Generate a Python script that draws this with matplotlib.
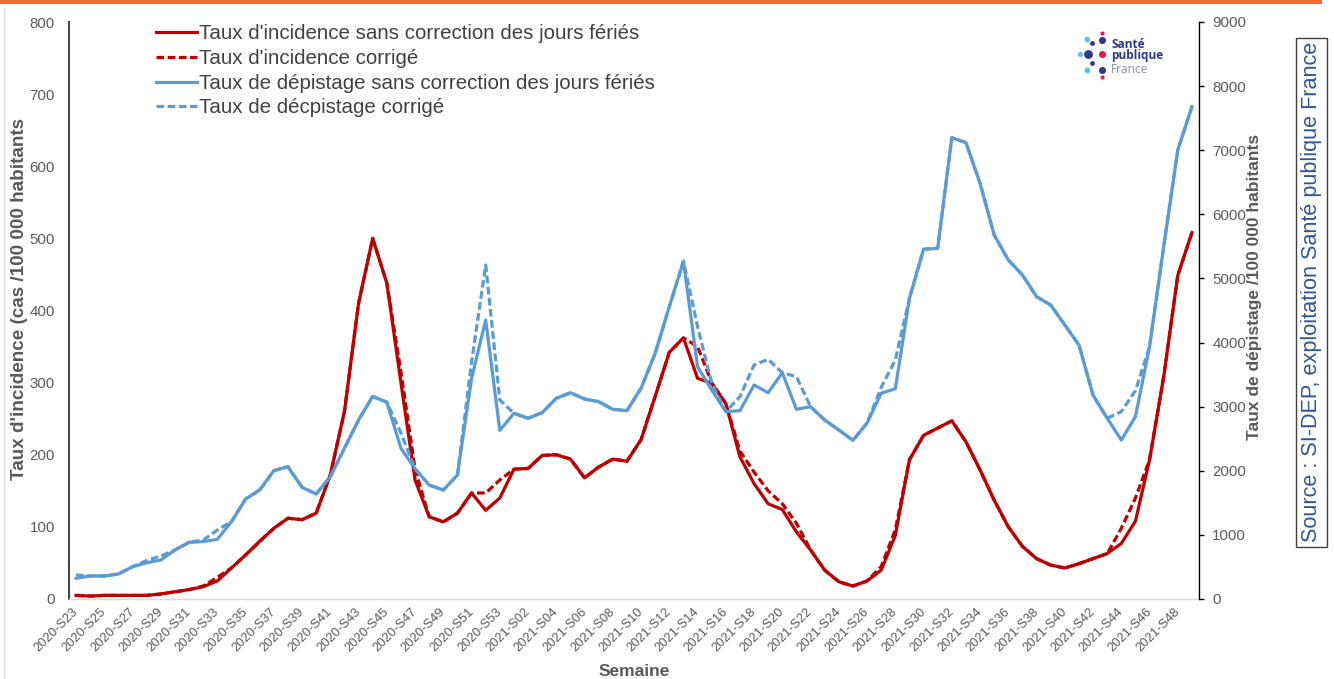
import numpy as np
import matplotlib
matplotlib.use("Agg")
import matplotlib.pyplot as plt
from matplotlib.patches import Rectangle

plt.rcParams['font.family'] = ['Liberation Sans', 'DejaVu Sans']

# semaines 2020-S23 -> 2021-S49
semaines = [f"2020-S{w}" for w in range(23, 54)] + [f"2021-S{w:02d}" for w in range(1, 50)]

# taux d'incidence (cas / 100 000 hab.)
incid_brut = [5, 4, 5, 5, 5, 5, 7, 10, 13, 17,
              25, 43, 61, 80, 98, 112, 110, 119, 172, 260,
              410, 500, 438, 300, 165, 114, 107, 119, 147, 123,
              140, 180, 181, 199, 200, 194, 168, 183, 194, 191,
              221, 281, 342, 362, 306, 299, 271, 197, 160, 132,
              124, 93, 68, 40, 24, 18, 25, 40, 88, 193,
              227, 237, 247, 218, 179, 137, 100, 73, 56, 47,
              43, 49, 56, 63, 77, 108, 193, 308, 449, 508]
incid_corr = [5, 4, 5, 5, 5, 5, 7, 10, 13, 18,
              30, 43, 61, 80, 98, 112, 110, 119, 172, 260,
              410, 500, 438, 315, 180, 114, 107, 119, 147, 147,
              165, 180, 181, 199, 200, 194, 168, 183, 194, 191,
              221, 281, 342, 362, 350, 300, 271, 205, 176, 150,
              132, 105, 68, 40, 24, 18, 25, 45, 96, 193,
              227, 237, 247, 218, 179, 137, 100, 73, 56, 47,
              43, 49, 56, 63, 98, 140, 193, 308, 449, 508]

# taux de dépistage (/ 100 000 hab.)
depist_brut = [323, 359, 359, 390, 504, 566, 608, 764, 884, 895,
               931, 1206, 1560, 1700, 2002, 2064, 1742, 1638, 1908, 2351,
               2792, 3160, 3070, 2351, 2030, 1778, 1700, 1934, 3440, 4352,
               2630, 2897, 2819, 2907, 3131, 3218, 3120, 3078, 2959, 2938,
               3287, 3833, 4560, 5268, 3624, 3260, 2922, 2938, 3338, 3218,
               3530, 2959, 3000, 2792, 2636, 2475, 2745, 3209, 3280, 4690,
               5455, 5471, 7196, 7118, 6485, 5678, 5288, 5054, 4716, 4586,
               4274, 3962, 3180, 2819, 2480, 2844, 3936, 5496, 7004, 7680]
depist_corr = [374, 359, 359, 390, 504, 600, 670, 764, 884, 920,
               1076, 1206, 1560, 1700, 2002, 2064, 1742, 1638, 1908, 2351,
               2792, 3160, 3070, 2590, 2030, 1778, 1700, 1934, 3690, 5210,
               3104, 2897, 2819, 2907, 3131, 3218, 3120, 3078, 2959, 2938,
               3287, 3833, 4560, 5268, 4250, 3365, 2922, 3156, 3650, 3739,
               3530, 3468, 3000, 2792, 2636, 2475, 2745, 3300, 3728, 4690,
               5455, 5471, 7196, 7118, 6485, 5678, 5288, 5054, 4716, 4586,
               4274, 3962, 3180, 2819, 2922, 3250, 3936, 5496, 7004, 7680]

ROUGE = '#C00000'
BLEU = '#5B9BD5'
GRIS = '#595959'
tirets = (0, (2.4, 1.1))

W, H = 1334, 679
fig = plt.figure(figsize=(W / 100, H / 100), dpi=100)
ax = fig.add_axes([69 / W, 1 - 599 / H, (1199 - 69) / W, (599 - 22) / H])
ax2 = ax.twinx()

x = np.arange(len(semaines))
l1, = ax.plot(x, incid_brut, color=ROUGE, lw=2.3, solid_joinstyle='round',
              label="Taux d'incidence sans correction des jours fériés")
l2, = ax.plot(x, incid_corr, color=ROUGE, lw=2.3, ls=tirets,
              label="Taux d'incidence corrigé")
l3, = ax2.plot(x, depist_brut, color=BLEU, lw=2.3, solid_joinstyle='round',
               label="Taux de dépistage sans correction des jours fériés")
l4, = ax2.plot(x, depist_corr, color=BLEU, lw=2.3, ls=tirets,
               label="Taux de décpistage corrigé")

ax.set_xlim(-0.5, len(semaines) - 0.5)
ax.set_ylim(0, 800)
ax2.set_ylim(0, 9000)
ax.set_yticks(range(0, 801, 100))
ax2.set_yticks(range(0, 9001, 1000))
ax.set_xticks(x[::2])
ax.set_xticklabels(semaines[::2], rotation=45, ha='right', va='center',
                   rotation_mode='anchor', fontsize=9.3, color=GRIS)
ax.tick_params(axis='x', length=0, pad=8)
ax.tick_params(axis='y', length=0, pad=10, labelsize=10.8, labelcolor=GRIS)
ax2.tick_params(axis='y', length=3.5, width=1, direction='out', pad=6,
                labelsize=10.8, labelcolor=GRIS, color='black')

for s in ['top', 'right']:
    ax.spines[s].set_visible(False)
ax.spines['left'].set_color('#404040')
ax.spines['left'].set_linewidth(1.4)
ax.spines['bottom'].set_color('#D9D9D9')
ax.spines['bottom'].set_linewidth(1)
for s in ['top', 'left', 'bottom']:
    ax2.spines[s].set_visible(False)
ax2.spines['right'].set_color('black')
ax2.spines['right'].set_linewidth(1)

ax.set_ylabel("Taux d'incidence (cas /100 000 habitants", fontsize=13.6,
              fontweight='bold', color=GRIS)
ax.yaxis.set_label_coords(-0.036, 0.52)
ax2.set_ylabel("Taux de dépistage /100 000 habitants", fontsize=12.5,
               fontweight='bold', color=GRIS, rotation=90)
ax2.yaxis.set_label_coords(1.0425, 0.54)
ax.set_xlabel("Semaine", fontsize=12.5, fontweight='bold', color=GRIS)
ax.xaxis.set_label_coords(0.5, -0.112)

fig.legend(handles=[l1, l2, l3, l4], loc='upper left',
           bbox_to_anchor=(148 / W, 1 - 16 / H), frameon=False,
           fontsize=14.8, labelcolor='#404040', handlelength=2.0,
           handletextpad=0.1, labelspacing=0.28, borderaxespad=0)

# éléments de mise en page (bandeau, cadre source, logo)
ov = fig.add_axes([0, 0, 1, 1], zorder=3)
ov.set_xlim(0, W)
ov.set_ylim(H, 0)
ov.axis('off')
ov.add_patch(Rectangle((0, 0), 1322, 3.5, color='#F26A2E', lw=0))
ov.plot([4, 4], [8, H], color='#D9D9D9', lw=1)
ov.add_patch(Rectangle((1296, 38), 31, 509, fill=False, ec='#404040', lw=1))
ov.text(1312, 292, "Source : SI-DEP, exploitation Santé publique France",
        rotation=90, ha='center', va='center', fontsize=15.6, color='#2F5597')

logo_pts = [(1101.7, 33.3, 9, '#E6175C'), (1101.7, 40, 26, '#2B3990'),
            (1086.7, 39.3, 16, '#5BC0EB'), (1091.7, 42.7, 12, '#2B3990'),
            (1080, 54.3, 14, '#5BC0EB'), (1088.3, 54.3, 40, '#2B3990'),
            (1101.7, 54.3, 26, '#E6175C'), (1091.7, 63.3, 12, '#2B3990'),
            (1086.7, 70, 16, '#5BC0EB'), (1101.7, 70, 26, '#2B3990'),
            (1101.7, 76.7, 9, '#E6175C')]
for px, py, sz, c in logo_pts:
    ov.scatter(px, py, s=sz, color=c, lw=0)
ov.text(1111, 44, "Santé", fontsize=8.6, fontweight='bold', color='#2B3990',
        va='center', family='Open Sans')
ov.text(1111, 56, "publique", fontsize=8.6, fontweight='bold', color='#2B3990',
        va='center', family='Open Sans')
ov.text(1111, 69.5, "France", fontsize=8.6, color='#8A8FA8', va='center',
        family='Open Sans')

fig.savefig("out.png", dpi=100)
